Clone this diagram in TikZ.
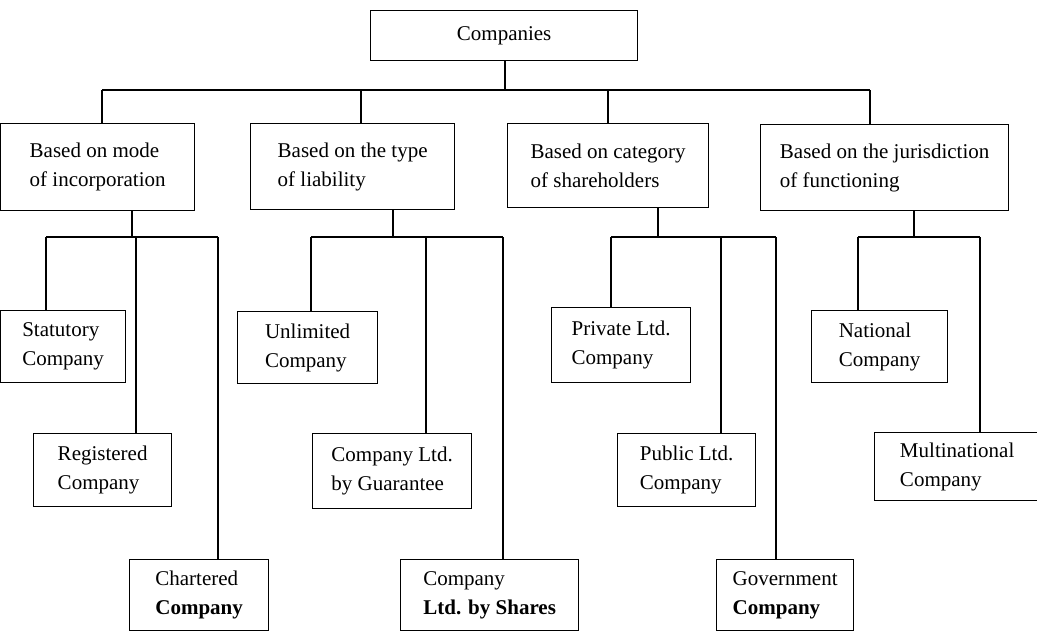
\documentclass[tikz,border=0pt]{standalone}
\usepackage{fontspec}
\setmainfont{Liberation Serif}
\begin{document}
\begin{tikzpicture}[x=1pt,y=-1pt,
  box/.style={draw, line width=1.3pt, anchor=north west, inner sep=0pt, align=left,
              font=\fontsize{21}{29}\selectfont},
  sz/.style 2 args={minimum width=#1pt, minimum height=#2pt},
  conn/.style={line width=1.2pt}]
\useasboundingbox (0,0) rectangle (1037,632);
% root
\node[box, sz={267}{50}, align=center] (top) at (370,10) {Companies};
% level 1
\node[box, sz={194}{87}] (b1) at (0,123) {Based on mode\\of incorporation};
\node[box, sz={204}{86}] (b2) at (250,123) {Based on the type\\of liability};
\node[box, sz={201}{84}] (b3) at (507,123) {Based on category\\of shareholders};
\node[box, sz={248}{86}] (b4) at (760,124) {Based on the jurisdiction\\of functioning};
% level 2
\node[box, sz={125}{72}] (s1) at (0,310) {Statutory\\Company};
\node[box, sz={138}{73}] (s2) at (33,433) {Registered\\Company};
\node[box, sz={139}{71}] (s3) at (129,559) {Chartered\\\textbf{Company}};
\node[box, sz={140}{72}] (l1) at (237,311) {Unlimited\\Company};
\node[box, sz={159}{75}] (l2) at (312,433) {Company Ltd.\\by Guarantee};
\node[box, sz={178}{71}] (l3) at (400,559) {Company\\\textbf{Ltd. by Shares}};
\node[box, sz={139}{75}] (c1) at (551,307) {Private Ltd.\\Company};
\node[box, sz={138}{73}] (c2) at (617,433) {Public Ltd.\\Company};
\node[box, sz={137}{71}] (c3) at (716,559) {Government\\\textbf{Company}};
\node[box, sz={136}{72}] (j1) at (811,310) {National\\Company};
\node[box, sz={165}{68}] (j2) at (874,432) {Multinational\\Company};
% top bus
\coordinate (k0) at (505,90);
\coordinate (k1) at (102,90);
\coordinate (k2) at (361,90);
\coordinate (k3) at (608,90);
\coordinate (k4) at (870,90);
\draw[conn] (top.south -| k0) -- (k0);
\draw[conn] (k1) -- (k4);
\draw[conn] (k1) -- (k1 |- b1.north);
\draw[conn] (k2) -- (k2 |- b2.north);
\draw[conn] (k3) -- (k3 |- b3.north);
\draw[conn] (k4) -- (k4 |- b4.north);
% group 1
\coordinate (m1) at (132,237);
\coordinate (p1) at (46,237);
\coordinate (p2) at (136,237);
\coordinate (p3) at (218,237);
\draw[conn] (m1 |- b1.south) -- (m1);
\draw[conn] (p1) -- (p3);
\draw[conn] (p1) -- (p1 |- s1.north);
\draw[conn] (p2) -- (p2 |- s2.north);
\draw[conn] (p3) -- (p3 |- s3.north);
% group 2
\coordinate (m2) at (393,237);
\coordinate (q1) at (311,237);
\coordinate (q2) at (426,237);
\coordinate (q3) at (503,237);
\draw[conn] (m2 |- b2.south) -- (m2);
\draw[conn] (q1) -- (q3);
\draw[conn] (q1) -- (q1 |- l1.north);
\draw[conn] (q2) -- (q2 |- l2.north);
\draw[conn] (q3) -- (q3 |- l3.north);
% group 3
\coordinate (m3) at (658,237);
\coordinate (r1) at (611,237);
\coordinate (r2) at (721,237);
\coordinate (r3) at (776,237);
\draw[conn] (m3 |- b3.south) -- (m3);
\draw[conn] (r1) -- (r3);
\draw[conn] (r1) -- (r1 |- c1.north);
\draw[conn] (r2) -- (r2 |- c2.north);
\draw[conn] (r3) -- (r3 |- c3.north);
% group 4
\coordinate (m4) at (914,237);
\coordinate (u1) at (858,237);
\coordinate (u2) at (980,237);
\draw[conn] (m4 |- b4.south) -- (m4);
\draw[conn] (u1) -- (u2);
\draw[conn] (u1) -- (u1 |- j1.north);
\draw[conn] (u2) -- (u2 |- j2.north);
\end{tikzpicture}
\end{document}
